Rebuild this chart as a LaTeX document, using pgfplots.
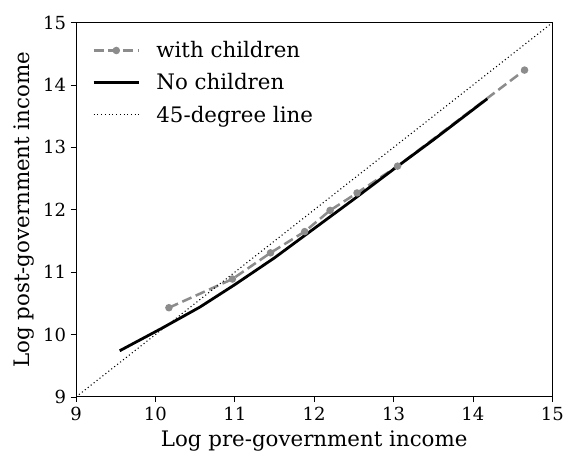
\documentclass[border=0pt]{standalone}
\usepackage{pgfplots}
\pgfplotsset{compat=1.18}
\usepackage{fontspec}
\setmainfont{DejaVu Serif}
\begin{document}
\begin{tikzpicture}
\begin{axis}[
  scale only axis,
  width=357pt, height=280.5pt,
  xmin=9, xmax=15, ymin=9, ymax=15,
  xtick={9,10,...,15}, ytick={9,10,...,15},
  tick align=outside, xtick pos=bottom, ytick pos=left,
  major tick length=4pt,
  tick style={black, line width=0.6pt},
  axis line style={line width=0.8pt},
  /pgf/number format/assume math mode=true,
  tick label style={font=\fontsize{13.5}{15}\selectfont},
  label style={font=\fontsize{16}{18}\selectfont},
  xlabel={Log pre-government income},
  ylabel={Log post-government income},
  xlabel style={yshift=-1pt},
  ylabel style={yshift=0pt},
  legend style={at={(0.025,0.965)}, anchor=north west, draw=none, fill=none,
    font=\fontsize{16}{18}\selectfont, row sep=6.5pt, column sep=10pt},
  legend cell align=left,
  legend image code/.code={\draw[mark repeat=2,mark phase=2,#1] plot coordinates {(0pt,0pt) (17pt,0pt) (34pt,0pt)};},
]
\addplot[gray!90, line width=1.9pt, dash pattern=on 7.5pt off 3.5pt,
  mark=*, mark size=1.8pt, mark options={solid, fill=gray!90, draw=gray!90}]
  coordinates {(10.17,10.43) (10.97,10.89) (11.45,11.31) (11.88,11.65) (12.20,11.99) (12.54,12.27) (13.05,12.70) (14.65,14.24)};
\addlegendentry{with children}
\addplot[black, line width=2.1pt, no marks]
  coordinates {(9.55,9.74) (10.08,10.10) (10.56,10.44) (11.0,10.80) (11.5,11.23) (12.0,11.70) (12.5,12.17) (13.0,12.65) (13.5,13.12) (14.18,13.78)};
\addlegendentry{No children}
\addplot[black, line width=0.8pt, dotted, no marks] coordinates {(9,9) (15,15)};
\addlegendentry{45-degree line}
\end{axis}
\path (current axis.south west) ++(-57pt,-48pt) (current axis.north east) ++(14pt,17pt);
\end{tikzpicture}
\end{document}
